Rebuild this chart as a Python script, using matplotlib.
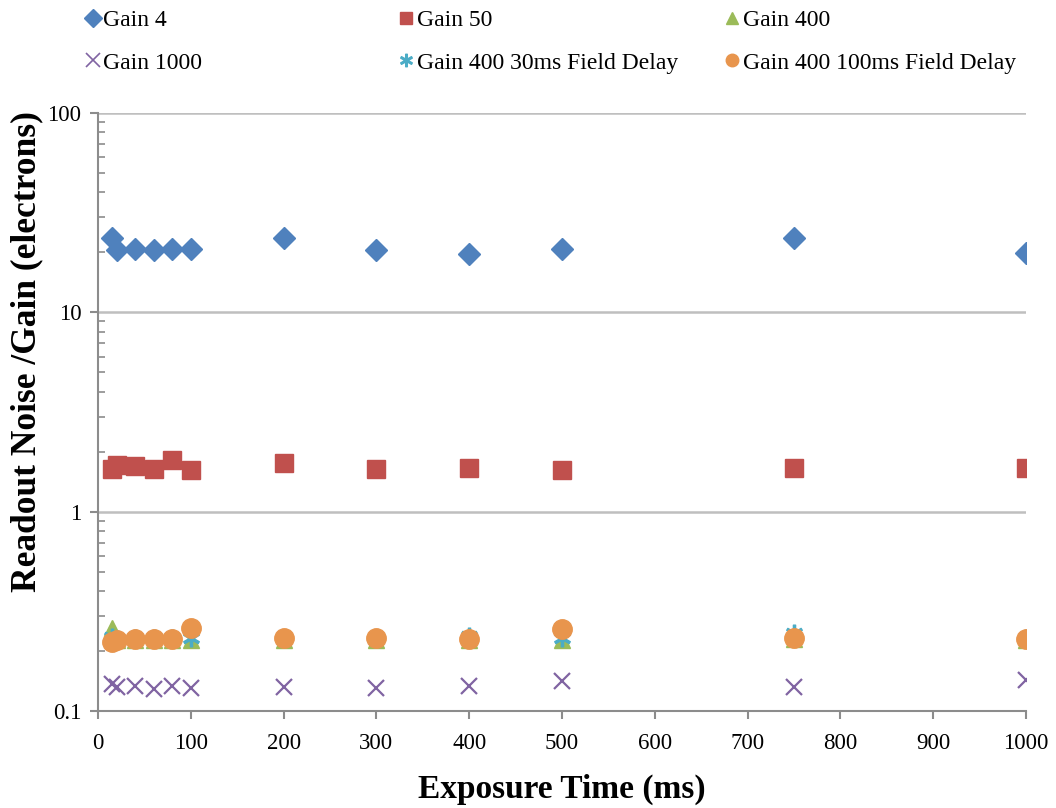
import numpy as np
import matplotlib
matplotlib.use('Agg')
import matplotlib.pyplot as plt
from matplotlib.lines import Line2D
from matplotlib.ticker import LogLocator, FixedLocator, NullFormatter

plt.rcParams['font.family'] = ['Liberation Serif', 'DejaVu Serif']

# ── Data ─────────────────────────────────────────────────────────────────────
exposure = [15, 20, 40, 60, 80, 100, 200, 300, 400, 500, 750, 1000]

gain_4    = [23.6, 20.6, 20.9, 20.6, 20.9, 20.9, 23.6, 20.6, 19.6, 20.9, 23.6, 19.9]
gain_50   = [1.64, 1.72, 1.69, 1.64, 1.82, 1.61, 1.76, 1.64, 1.66, 1.61, 1.66, 1.66]
gain_400  = [0.262, 0.228, 0.228, 0.228, 0.228, 0.228, 0.228, 0.228, 0.228, 0.228, 0.230, 0.228]
gain_1000 = [0.136, 0.132, 0.134, 0.129, 0.134, 0.130, 0.132, 0.130, 0.133, 0.141, 0.132, 0.143]
gain_400_30ms  = [0.235, 0.230, 0.232, 0.232, 0.232, 0.232, 0.232, 0.232, 0.237, 0.232, 0.245, 0.232]
gain_400_100ms = [0.222, 0.226, 0.230, 0.230, 0.230, 0.262, 0.232, 0.232, 0.230, 0.257, 0.232, 0.229]

series = [
    ('Gain 4',    gain_4,    'D', '#4F81BD', 11),
    ('Gain 50',   gain_50,   's', '#C0504D', 13),
    ('Gain 400',  gain_400,  '^', '#9BBB59', 11),
    ('Gain 1000', gain_1000, 'x', '#8064A2', 12),
    ('Gain 400 30ms Field Delay',  gain_400_30ms,  '$\u2217$', '#4BACC6', 12),
    ('Gain 400 100ms Field Delay', gain_400_100ms, 'o', '#E8954D', 14),
]

# ── Plot ─────────────────────────────────────────────────────────────────────
fig = plt.figure(figsize=(10.56, 8.08), dpi=100)
ax = fig.add_axes([0.0928, 0.12, 0.8788, 0.7401])

handles = {}
for name, vals, mk, col, ms in series:
    kw = dict(marker=mk, color=col, markersize=ms, linestyle='none')
    if mk == 'x':
        kw['markeredgewidth'] = 1.6
    ax.plot(exposure, vals, label=name, **kw)
    handles[name] = Line2D([], [], marker=mk, color=col, linestyle='none',
                           markersize=9 if mk != 'x' else 10,
                           markeredgewidth=1.2 if mk == 'x' else 1.0)

ax.set_yscale('log')
ax.set_ylim(0.1, 100)
ax.set_xlim(0, 1000)
ax.set_xticks(np.arange(0, 1001, 100))
ax.yaxis.set_major_locator(FixedLocator([0.1, 1, 10, 100]))
ax.set_yticklabels(['0.1', '1', '10', '100'])
ax.yaxis.set_minor_locator(LogLocator(base=10, subs=np.arange(2, 10)))
ax.yaxis.set_minor_formatter(NullFormatter())

ax.grid(True, axis='y', which='major', color='#BFBFBF', lw=1.8)
ax.set_axisbelow(True)
for s in ['top', 'right']:
    ax.spines[s].set_visible(False)
for s in ['left', 'bottom']:
    ax.spines[s].set_color('#8C8C8C')
    ax.spines[s].set_linewidth(1.5)

ax.tick_params(axis='both', which='major', labelsize=16.5, color='#8C8C8C',
               width=1.5, length=6, direction='out')
ax.tick_params(axis='x', which='major', pad=10)
ax.tick_params(axis='y', which='major', pad=6)
ax.tick_params(axis='y', which='minor', color='#8C8C8C', width=1.2,
               length=5, direction='in')

ax.set_xlabel('Exposure Time (ms)', fontsize=24, fontweight='bold', labelpad=14)
# y label sits a bit above the axes centre in the reference
fig.text(27 / 1056, 1 - 352 / 808, 'Readout Noise /Gain (electrons)',
         rotation=90, ha='center', va='center', fontsize=25.5, fontweight='bold')

# legend: three columns, two rows at the top
columns = [('Gain 4', 'Gain 1000'),
           ('Gain 50', 'Gain 400 30ms Field Delay'),
           ('Gain 400', 'Gain 400 100ms Field Delay')]
col_x = [0.072, 0.369, 0.678]
for cx, names in zip(col_x, columns):
    fig.legend([handles[n] for n in names], list(names), loc='upper left',
               bbox_to_anchor=(cx, 1.0), frameon=False, fontsize=17,
               handlelength=0.6, handletextpad=0.15, labelspacing=0.9,
               borderaxespad=0)

fig.savefig('out.png', dpi=100)
